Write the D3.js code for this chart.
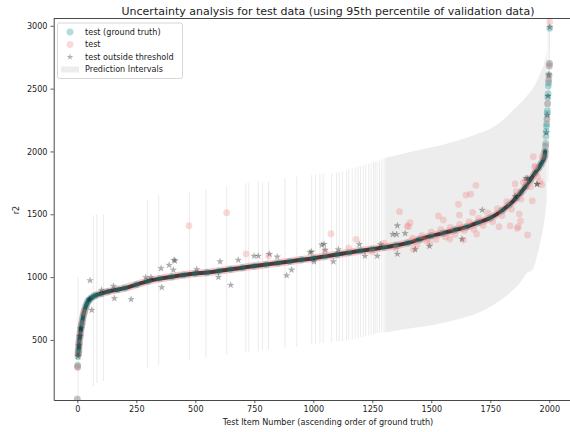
<!DOCTYPE html>
<html><head><meta charset="utf-8">
<script src="https://cdn.jsdelivr.net/npm/d3@7"></script>
<style>
body{margin:0;background:#fff;}
text{font-family:"DejaVu Sans",sans-serif;fill:#222;}
</style></head>
<body><svg id="chart" width="570" height="432"></svg>
<script>
// ---- data ----
const xTicks = [0,250,500,750,1000,1250,1500,1750,2000];
const yTicks = [500,1000,1500,2000,2500,3000];

// ground truth (sorted ascending), sampled item numbers
const gtIdx = [0,1,2,3,4,5,6,7,8,10,12,14,16,18,20,23,26,30,35,40,45,50,60,70,80,100,130,170,200,250,300,350,400,450,500,550,600,650,700,750,800,850,900,950,1000,1050,1100,1150,1200,1250,1300,1350,1400,1450,1500,1550,1600,1650,1700,1750,1800,1830,1860,1880,1900,1920,1940,1955,1965,1975,1980,1982,1984,1985,1986,1987,1988,1989,1990,1991,1992,1993,1994,1995,1996,1997,1998,1999,2000,2001,2002];
const gtVal = [30,285,300,367,390,410,433,460,486,520,539,575,600,620,640,670,700,730,760,785,805,818,835,848,857,868,885,900,912,940,968,988,1003,1017,1028,1037,1048,1062,1075,1088,1100,1112,1125,1138,1150,1165,1180,1195,1210,1222,1237,1252,1272,1300,1328,1350,1375,1400,1435,1470,1530,1575,1630,1675,1722,1775,1830,1870,1900,1935,1965,2000,2040,2065,2120,2160,2200,2220,2260,2300,2325,2380,2430,2460,2520,2545,2570,2610,2680,2700,2980];

// test predictions ("test")
const predIdx = [0,1,2,4,8,12,20,30,473,633,715,810,1050,1075,1150,1181,1250,1300,1350,1365,1398,1403,1410,1420,1424,1440,1460,1480,1494,1500,1520,1530,1540,1551,1560,1579,1580,1600,1615,1619,1620,1636,1640,1647,1660,1667,1675,1680,1689,1692,1700,1720,1740,1760,1780,1787,1800,1820,1834,1840,1855,1860,1864,1869,1873,1878,1880,1890,1900,1908,1920,1928,1932,1939,1940,1950,1961,1968,1970,1985,1990,1993,1997,1999,2000,2001,2002];
const predVal = [25,290,280,395,470,540,630,720,1409,1513,1184,1168,1200,1345,1230,1301,1200,1270,1230,1521,1407,1401,1433,1310,1221,1260,1330,1290,1269,1360,1300,1487,1380,1455,1320,1303,1395,1340,1579,1494,1420,1295,1370,1653,1440,1661,1515,1380,1730,1343,1470,1410,1510,1440,1545,1401,1490,1600,1407,1540,1741,1680,1388,1401,1502,1446,1620,1754,1770,1335,1720,1606,1958,1879,1880,1800,1759,1735,1960,2050,2250,2380,2560,2600,2700,2680,3030];

// predictions outside threshold
const starIdx = [3,7,11,15,51,54,61,103,153,157,228,290,312,355,358,389,407,410,414,506,598,605,650,682,749,767,814,847,887,908,986,993,1003,1036,1046,1050,1085,1106,1195,1219,1271,1285,1337,1353,1356,1356,1389,1432,1492,1630,1716,1855,1901,1908,1947,1949,1987,1991,1994,1998,2002];
const starVal = [370,455,530,590,823,973,738,897,929,831,823,998,998,1070,918,1096,1057,1135,1130,1062,1000,1123,937,1136,1168,1168,1184,1162,1013,1057,1197,1202,1123,1256,1262,1216,1123,1219,1261,1168,1168,1261,1340,1340,1409,1184,1348,1221,1247,1303,1534,1645,1786,1786,1741,1738,2150,2290,2440,2610,2990];

// prediction intervals: isolated items
const piIdx = [3,68,83,111,297,345,475,545,633,714,727,767,785,810,880,930,993,1010,1028,1042,1078,1099,1110,1124,1141,1150,1165,1178,1190,1200,1212,1222,1235,1245,1255,1262,1270,1280,1290,1300,1995,2001];
const piLow = [-330,133,155,173,279,300,335,364,388,398,406,406,420,425,441,446,468,470,473,476,481,488,490,492,495,500,505,510,515,520,525,530,535,540,545,548,551,555,558,560,1760,2280];
const piHigh = [1000,1494,1500,1502,1613,1653,1680,1701,1719,1749,1749,1759,1759,1759,1786,1799,1812,1815,1818,1821,1826,1832,1835,1838,1842,1860,1866,1872,1878,1883,1890,1895,1902,1908,1914,1918,1922,1930,1938,1946,3160,3680];
// prediction intervals: densely covered range (envelope)
const bandIdx = [1305,1367,1420,1508,1580,1650,1710,1763,1810,1847,1880,1904,1930,1947,1962,1975,1983,1989];
const bandLow = [560,579,595,619,648,685,725,778,840,897,965,1030,1060,1160,1280,1400,1500,1600];
const bandHigh = [1950,1975,2000,2036,2070,2110,2150,2195,2260,2330,2390,2440,2500,2560,2620,2680,2740,2790];

// ---- drawing ----
const svg = d3.select("#chart");
const L = 53.7, R = 572.9, T = 18.5, B = 400;
const x = d3.scaleLinear().domain([-100, 2100]).range([L, R]);
const y = d3.scaleLinear().domain([22, 3058]).range([B, T]);

svg.append("defs").append("clipPath").attr("id","clip")
  .append("rect").attr("x",L).attr("y",T).attr("width",R-L).attr("height",B-T);
const g = svg.append("g").attr("clip-path","url(#clip)");

const piColor = "#d3d3d3";
// dense interval area
const band = bandIdx.map((d,i)=>({i:d, lo:bandLow[i], hi:bandHigh[i]}));
g.append("path").datum(band)
  .attr("d", d3.area().x(d=>x(d.i)).y0(d=>y(d.lo)).y1(d=>y(d.hi)).curve(d3.curveMonotoneX))
  .attr("fill", piColor).attr("opacity",0.4);
// isolated interval hairlines
g.selectAll("line.pi").data(piIdx.map((d,i)=>({i:d, lo:piLow[i], hi:piHigh[i]})))
  .join("line").attr("class","pi")
  .attr("x1",d=>x(d.i)).attr("x2",d=>x(d.i))
  .attr("y1",d=>y(d.lo)).attr("y2",d=>y(d.hi))
  .attr("stroke", piColor).attr("stroke-opacity",0.45).attr("stroke-width",1);

// dense band of points along ground truth
const gt = gtIdx.map((d,i)=>({i:d, v:gtVal[i]}));
const bandPts = gt.filter(d=>d.i>=4 && d.i<=1983);
const line = d3.line().x(d=>x(d.i)).y(d=>y(d.v)).curve(d3.curveMonotoneX);
g.append("path").datum(bandPts).attr("d",line)
  .attr("fill","none").attr("stroke","#f08080").attr("stroke-opacity",0.45)
  .attr("stroke-width",7.5).attr("stroke-linecap","round");
g.append("path").datum(bandPts).attr("d",line)
  .attr("fill","none").attr("stroke","#151515").attr("stroke-opacity",0.78)
  .attr("stroke-width",4).attr("stroke-linecap","round");

// ground truth markers
g.selectAll("circle.gt").data(gt).join("circle").attr("class","gt")
  .attr("cx",d=>x(d.i)).attr("cy",d=>y(d.v)).attr("r",3.4)
  .attr("fill","#008b8b").attr("fill-opacity",0.3);
// predictions
g.selectAll("circle.pred").data(predIdx.map((d,i)=>({i:d, v:predVal[i]})))
  .join("circle").attr("class","pred")
  .attr("cx",d=>x(d.i)).attr("cy",d=>y(d.v)).attr("r",3.4)
  .attr("fill","#f08080").attr("fill-opacity",0.3);
// stars
const star = d3.symbol().type(d3.symbolStar).size(14);
g.selectAll("path.star").data(starIdx.map((d,i)=>({i:d, v:starVal[i]})))
  .join("path").attr("class","star")
  .attr("transform",d=>`translate(${x(d.i)},${y(d.v)})`)
  .attr("d",star).attr("fill","#000").attr("fill-opacity",0.3)
  .attr("stroke","#000").attr("stroke-opacity",0.15).attr("stroke-width",0.5);

// axes
const fs = 8.1;
const fmt = d3.format("d");
const xa = svg.append("g").attr("transform",`translate(0,${B})`)
  .call(d3.axisBottom(x).tickValues(xTicks).tickFormat(fmt).tickSize(3.2).tickPadding(3).tickSizeOuter(0));
const ya = svg.append("g").attr("transform",`translate(${L},0)`)
  .call(d3.axisLeft(y).tickValues(yTicks).tickFormat(fmt).tickSize(3.2).tickPadding(3).tickSizeOuter(0));
[xa,ya].forEach(a=>{
  a.selectAll("text").style("font-size",fs+"px").style("font-family","DejaVu Sans").attr("fill","#222");
  a.selectAll("line").attr("stroke","#333").attr("stroke-width",0.8);
  a.select(".domain").attr("stroke","#333").attr("stroke-width",0.9);
});
// top spine
svg.append("line").attr("x1",L).attr("x2",R).attr("y1",T).attr("y2",T)
  .attr("stroke","#333").attr("stroke-width",0.9);

// labels
svg.append("text").attr("x",328).attr("y",14.5).attr("text-anchor","middle")
  .style("font-size","11px").text("Uncertainty analysis for test data (using 95th percentile of validation data)");
svg.append("text").attr("x",328).attr("y",424.5).attr("text-anchor","middle")
  .style("font-size","8.1px").text("Test Item Number (ascending order of ground truth)");
svg.append("text").attr("transform","translate(19,210) rotate(-90)").attr("text-anchor","middle")
  .style("font-size","8.1px").text("r2");

// legend
const lg = svg.append("g");
lg.append("rect").attr("x",57.5).attr("y",23).attr("width",125).attr("height",55.5).attr("rx",2)
  .attr("fill","#fff").attr("fill-opacity",0.8).attr("stroke","#ccc").attr("stroke-width",0.8);
const rows = [31.5,44,56.5,69];
const labels = ["test (ground truth)","test","test outside threshold","Prediction Intervals"];
lg.append("circle").attr("cx",70).attr("cy",rows[0]+0.5).attr("r",3.4).attr("fill","#008b8b").attr("fill-opacity",0.3);
lg.append("circle").attr("cx",70).attr("cy",rows[1]+0.5).attr("r",3.4).attr("fill","#f08080").attr("fill-opacity",0.3);
lg.append("path").attr("transform",`translate(70,${rows[2]+0.5})`).attr("d",star)
  .attr("fill","#000").attr("fill-opacity",0.3);
lg.append("rect").attr("x",61).attr("y",rows[3]-2.5).attr("width",18).attr("height",6)
  .attr("fill",piColor).attr("opacity",0.4);
labels.forEach((t,i)=>{
  lg.append("text").attr("x",85).attr("y",rows[i]+3).style("font-size",fs+"px").text(t);
});
</script></body></html>
